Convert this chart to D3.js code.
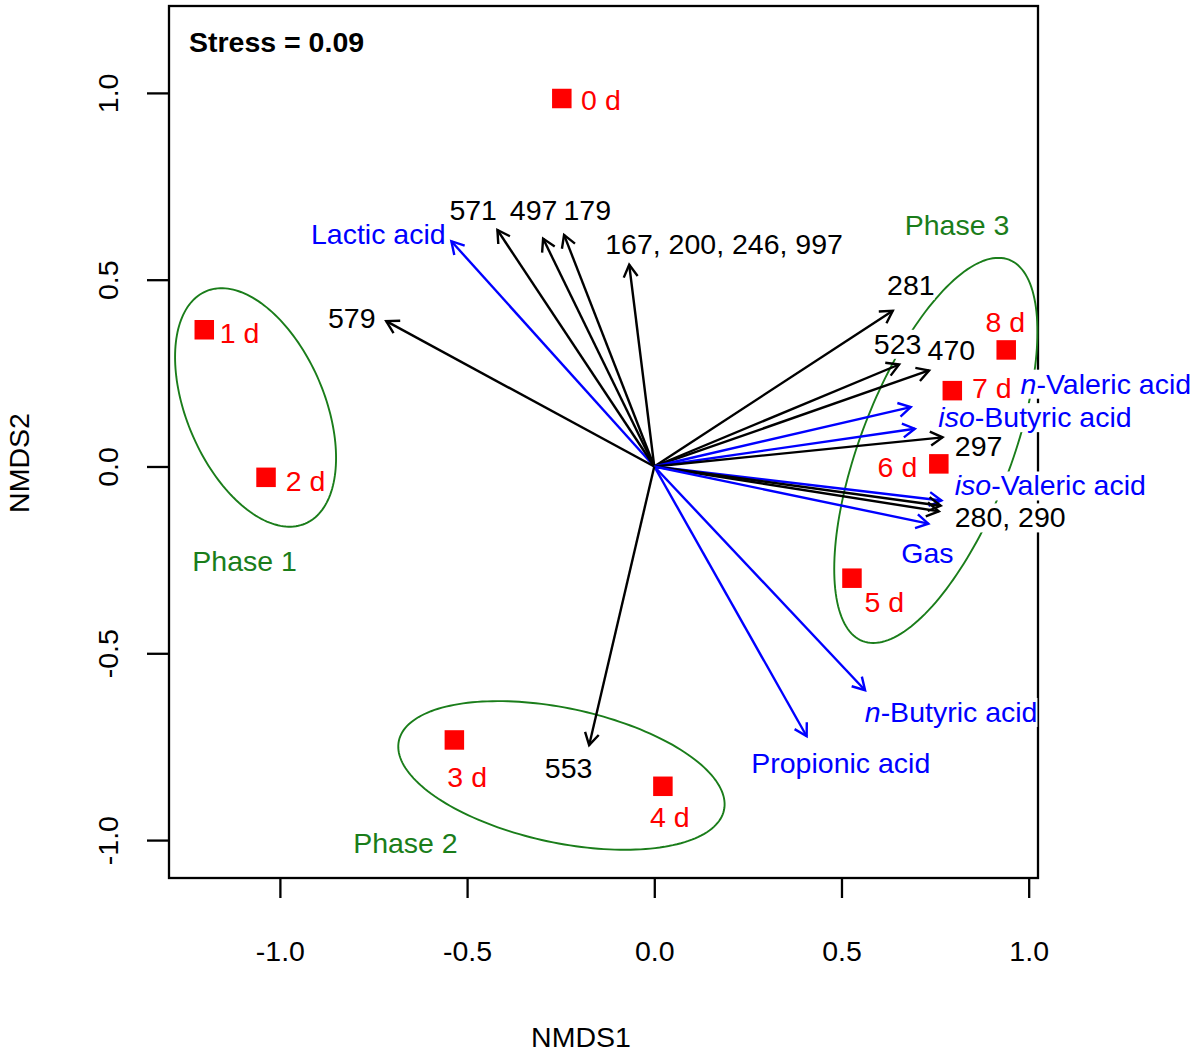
<!DOCTYPE html>
<html><head><meta charset="utf-8">
<script src="https://cdn.jsdelivr.net/npm/d3@7"></script>
<style>body{margin:0;background:#fff}</style>
</head><body>
<svg id="chart" width="1200" height="1052"></svg>
<script>
// ---------- data ----------
const xTicks = [-1.0, -0.5, 0.0, 0.5, 1.0];
const yTicks = [-1.0, -0.5, 0.0, 0.5, 1.0];

const sampleNames = ["0 d","1 d","2 d","3 d","4 d","5 d","6 d","7 d","8 d"];
const sampleX = [-0.247,-1.202,-1.037,-0.534, 0.023, 0.528, 0.760, 0.796, 0.940];
const sampleY = [ 0.985, 0.366,-0.029,-0.732,-0.856,-0.299, 0.007, 0.203, 0.312];

const vectorLabels = ["Lactic acid","571","497","179","167, 200, 246, 997","579","281","523","470",
  "n-Valeric acid","iso-Butyric acid","297","iso-Valeric acid","280, 290","","Gas",
  "n-Butyric acid","Propionic acid","553"];
const vectorKind = ["env","otu","otu","otu","otu","otu","otu","otu","otu",
  "env","env","otu","env","otu","otu","env","env","env","otu"];
const vectorX = [-0.542,-0.419,-0.297,-0.241,-0.067,-0.716, 0.637, 0.654, 0.734,
   0.685, 0.696, 0.770, 0.767, 0.765, 0.760, 0.732, 0.563, 0.407,-0.174];
const vectorY = [ 0.603, 0.633, 0.610, 0.620, 0.540, 0.389, 0.417, 0.273, 0.257,
   0.159, 0.101, 0.078,-0.091,-0.105,-0.120,-0.153,-0.599,-0.722,-0.746];

const phaseNames = ["Phase 1","Phase 2","Phase 3"];
const phaseCX = [-1.065,-0.248, 0.752];
const phaseCY = [ 0.158,-0.827, 0.043];
const phaseA  = [ 0.338, 0.444, 0.5466];
const phaseB  = [ 0.184, 0.180, 0.2016];
const phaseAngle = [-66.9,-12.05, 69.05];

const stressText = "Stress = 0.09";

// ---------- layout (pixel offsets for labels) ----------
const vecLabelOffset = [[-140.4,2.3],[-48,-10.3],[-33.3,-19],[-0.6,-15.3],[-24,-11],[-58.2,6.6],
  [-5.7,-16],[-25.3,-10.7],[-1.5,-10],[109.8,-13.4],[23.5,-1.6],[12.3,18.3],[13.3,-5],[14,21.7],
  [0,0],[-27,39.4],[-0.3,31.7],[-55.4,36.7],[-44.3,33.3]];
const ptLabelOffset = [[19.3,11],[15.5,13.5],[19.8,13.9],[-7,47],[-12.8,40.9],[12.5,33.9],
  [-61.2,13.4],[19.7,7.3],[-20.8,-17.8]];
const phaseLabelOffset = [[-63.2,163.2],[-208.3,77.8],[-31.1,-215.5]];

const FONT = "'Liberation Sans', Arial, Helvetica, sans-serif";
const FS = 28.5;
const RED = "#ff0000", BLUE = "#0000ff", GREEN = "#1a7d1a";

const svg = d3.select("#chart").style("font-family", FONT);

const x = d3.scaleLinear().domain([-1.2962, 1.0249]).range([169, 1038]);
const y = d3.scaleLinear().domain([-1.1015, 1.2326]).range([878, 6]);

// box
svg.append("rect").attr("x",169).attr("y",6).attr("width",869).attr("height",872)
  .attr("fill","none").attr("stroke","#000").attr("stroke-width",2.3);

// axes
const fmt = d => (Math.abs(d) < 1e-9 ? 0 : d).toFixed(1);
const gx = svg.append("g").attr("transform","translate(0,878)")
  .call(d3.axisBottom(x).tickValues(xTicks).tickSize(20).tickPadding(43).tickFormat(fmt));
gx.select(".domain").remove();
gx.selectAll("line").attr("stroke","#000").attr("stroke-width",2.3);
gx.selectAll("text").attr("font-size",FS).attr("font-family",FONT).attr("fill","#000");

const gy = svg.append("g").attr("transform","translate(169,0)")
  .call(d3.axisLeft(y).tickValues(yTicks).tickSize(22).tickFormat(fmt));
gy.select(".domain").remove();
gy.selectAll("line").attr("stroke","#000").attr("stroke-width",2.3);
gy.selectAll("text").attr("font-size",FS).attr("font-family",FONT).attr("fill","#000")
  .attr("transform","rotate(-90)").attr("x",0).attr("y",-51).attr("dy",null)
  .attr("text-anchor","middle");

// axis titles
svg.append("text").attr("x",581).attr("y",1046.5).attr("text-anchor","middle")
  .attr("font-size",FS).text("NMDS1");
svg.append("text").attr("transform","translate(28.5,463) rotate(-90)").attr("text-anchor","middle")
  .attr("font-size",FS).text("NMDS2");

// ellipses
const ellLine = d3.line().x(d => x(d[0])).y(d => y(d[1])).curve(d3.curveLinearClosed);
phaseNames.forEach((nm, i) => {
  const th = phaseAngle[i] * Math.PI / 180;
  const pts = d3.range(0, 360, 2).map(t => {
    const r = t * Math.PI / 180;
    return [phaseCX[i] + phaseA[i]*Math.cos(r)*Math.cos(th) - phaseB[i]*Math.sin(r)*Math.sin(th),
            phaseCY[i] + phaseA[i]*Math.cos(r)*Math.sin(th) + phaseB[i]*Math.sin(r)*Math.cos(th)];
  });
  svg.append("path").attr("d", ellLine(pts)).attr("fill","none")
    .attr("stroke",GREEN).attr("stroke-width",1.9);
  svg.append("text").attr("x", x(phaseCX[i]) + phaseLabelOffset[i][0])
    .attr("y", y(phaseCY[i]) + phaseLabelOffset[i][1])
    .attr("font-size",FS).attr("fill",GREEN).text(nm);
});

// arrows
const gArr = svg.append("g");
vectorX.forEach((vx, i) => {
  const col = vectorKind[i] === "env" ? BLUE : "#000";
  const x0 = x(0), y0 = y(0), x1 = x(vx), y1 = y(vectorY[i]);
  const ang = Math.atan2(y1 - y0, x1 - x0);
  const L = 14, a = Math.PI / 6;
  gArr.append("line").attr("x1",x0).attr("y1",y0).attr("x2",x1).attr("y2",y1)
    .attr("stroke",col).attr("stroke-width",2.4);
  const p = [[x1 - L*Math.cos(ang - a), y1 - L*Math.sin(ang - a)],[x1,y1],
             [x1 - L*Math.cos(ang + a), y1 - L*Math.sin(ang + a)]];
  gArr.append("path").attr("d", d3.line()(p)).attr("fill","none")
    .attr("stroke",col).attr("stroke-width",2.4);
});

// vector labels with white background
vectorLabels.forEach((lab, i) => {
  if (!lab) return;
  const col = vectorKind[i] === "env" ? BLUE : "#000";
  const g = svg.append("g");
  const rect = g.append("rect").attr("fill","#fff");
  const t = g.append("text").attr("x", x(vectorX[i]) + vecLabelOffset[i][0])
    .attr("y", y(vectorY[i]) + vecLabelOffset[i][1]).attr("font-size",FS).attr("fill",col);
  const m = lab.match(/^(n|iso)(-.*)$/);
  if (m) {
    t.append("tspan").attr("font-style","italic").text(m[1]);
    t.append("tspan").text(m[2]);
  } else t.text(lab);
  const bb = t.node().getBBox();
  rect.attr("x",bb.x).attr("y",bb.y + 2).attr("width",bb.width).attr("height",bb.height - 3);
});

// sample points
const S = 19.5;
svg.append("g").selectAll("rect").data(sampleNames).join("rect")
  .attr("x",(d,i) => x(sampleX[i]) - S/2).attr("y",(d,i) => y(sampleY[i]) - S/2)
  .attr("width",S).attr("height",S).attr("fill",RED);
svg.append("g").selectAll("text").data(sampleNames).join("text")
  .attr("x",(d,i) => x(sampleX[i]) + ptLabelOffset[i][0])
  .attr("y",(d,i) => y(sampleY[i]) + ptLabelOffset[i][1])
  .attr("font-size",FS).attr("fill",RED).text(d => d);

// stress
svg.append("text").attr("x",189).attr("y",52.3).attr("font-size",FS).attr("font-weight","bold")
  .text(stressText);
</script>
</body></html>
